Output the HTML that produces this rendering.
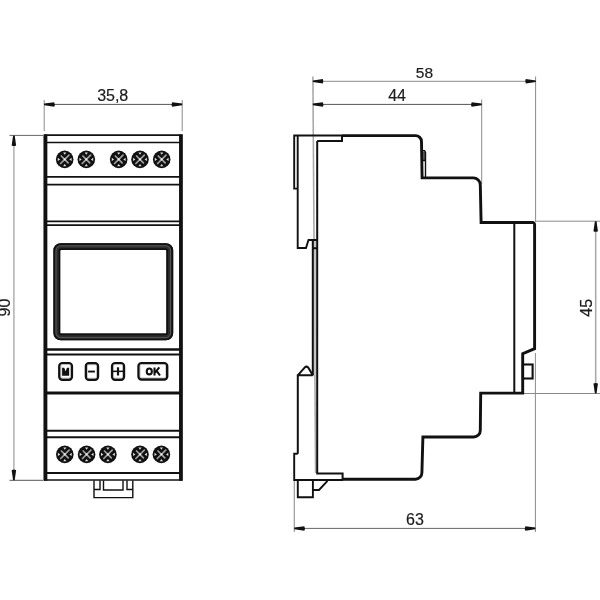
<!DOCTYPE html>
<html><head><meta charset="utf-8"><style>
html,body{margin:0;padding:0;background:#fff;width:600px;height:600px;overflow:hidden}
svg{display:block;filter:grayscale(1)}
text{font-family:"Liberation Sans",sans-serif;font-size:16px;fill:#1c1c1c;stroke:#1c1c1c;stroke-width:0.2}
</style></head><body>
<svg width="600" height="600" viewBox="0 0 600 600">
<defs>
<g id="scr">
<circle r="8.8" fill="#111"/>
<path d="M-3.4,-3.4L3.4,3.4M4.3,-4.3L-4.1,4.1" stroke="#a0a0a0" stroke-width="1.7" fill="none" stroke-linecap="round"/><circle r="1.1" fill="#eee"/>
<path d="M0,-4.6L-1.6,-6.9L1.6,-6.9ZM0,4.6L-1.6,6.9L1.6,6.9ZM-4.6,0L-6.9,-1.6L-6.9,1.6ZM4.6,0L6.9,-1.6L6.9,1.6Z" fill="#e0e0e0"/>
</g>
<path id="arr" d="M0,-0.8L10,-2.25Q11.2,0 10,2.25L0,0.8Z" fill="#111"/>
</defs>

<!-- ===== dimension lines (gray) ===== -->
<g stroke="#8a8a8a" stroke-width="1" fill="none">
<!-- 35,8 -->
<line x1="44.2" y1="100" x2="44.2" y2="131"/>
<line x1="182.2" y1="100" x2="182.2" y2="131"/>
<line x1="44.2" y1="104.4" x2="182.2" y2="104.4" stroke="#555"/>
<!-- 90 -->
<line x1="9.5" y1="135.4" x2="43" y2="135.4" stroke="#666"/>
<line x1="9.5" y1="480.3" x2="43" y2="480.3" stroke="#555"/>
<line x1="13.9" y1="135.4" x2="13.9" y2="480.2" stroke="#aaa" stroke-width="1.4"/>
<!-- 58 / 44 -->
<line x1="312.9" y1="76.5" x2="315.6" y2="473" stroke="#aaa" stroke-width="1.6"/>
<line x1="535.6" y1="76.5" x2="535.6" y2="222"/>
<line x1="481.7" y1="99.5" x2="481.7" y2="184"/>
<line x1="313.5" y1="81.3" x2="535.6" y2="81.3"/>
<line x1="313.5" y1="104.4" x2="481.7" y2="104.4" stroke="#555"/>
<!-- 45 -->
<line x1="536" y1="221.2" x2="600" y2="221.2"/>
<line x1="523" y1="393.5" x2="600" y2="393.5"/>
<line x1="595.7" y1="221.2" x2="595.7" y2="393.5" stroke="#aaa" stroke-width="1.6"/>
<!-- 63 -->
<line x1="294.3" y1="481" x2="294.3" y2="532" stroke="#999" stroke-width="1.2"/>
<line x1="535.4" y1="353" x2="535.4" y2="532"/>
<line x1="294.3" y1="528.4" x2="535.4" y2="528.4" stroke="#666"/>
</g>
<!-- arrows -->
<use href="#arr" transform="translate(44.2,104.4)"/>
<use href="#arr" transform="translate(182.2,104.4) rotate(180)"/>
<use href="#arr" transform="translate(13.9,135.4) rotate(90)"/>
<use href="#arr" transform="translate(13.9,480.2) rotate(-90)"/>
<use href="#arr" transform="translate(312.8,81.3)"/>
<use href="#arr" transform="translate(535.8,81.3) rotate(180)"/>
<use href="#arr" transform="translate(312.8,104.4)"/>
<use href="#arr" transform="translate(481.7,104.4) rotate(180)"/>
<use href="#arr" transform="translate(595.7,221.2) rotate(90)"/>
<use href="#arr" transform="translate(595.7,393.5) rotate(-90)"/>
<use href="#arr" transform="translate(294.3,528.4)"/>
<use href="#arr" transform="translate(535.4,528.4) rotate(180)"/>

<!-- labels -->
<text x="112.7" y="100.9" text-anchor="middle">35,8</text>
<text x="424.4" y="77.9" text-anchor="middle" style="font-size:15.5px">58</text>
<text x="397.1" y="100.6" text-anchor="middle">44</text>
<text x="415" y="525" text-anchor="middle">63</text>
<text transform="translate(10.1,307.5) rotate(-90)" text-anchor="middle">90</text>
<text transform="translate(592,307.8) rotate(-90)" text-anchor="middle">45</text>

<!-- ===== FRONT VIEW ===== -->
<g stroke="#111" fill="none">
<line x1="45.4" y1="134.5" x2="45.4" y2="480.7" stroke-width="3.9"/>
<line x1="180.95" y1="134.5" x2="180.95" y2="480.7" stroke-width="3.8"/>
<g stroke-width="1.7">
<line x1="44" y1="135.2" x2="182.4" y2="135.2"/>
<line x1="44" y1="142.5" x2="180" y2="142.5"/>
<line x1="44" y1="176.9" x2="180" y2="176.9" stroke-width="1.7"/>
<line x1="44" y1="184.7" x2="180" y2="184.7"/>
<line x1="44" y1="221.4" x2="182" y2="221.4" stroke-width="1.8"/>
<line x1="44" y1="225.1" x2="182" y2="225.1" stroke-width="1.8"/>
<line x1="44" y1="349.5" x2="182" y2="349.5" stroke-width="2.5"/>
<line x1="44" y1="354.5" x2="182" y2="354.5" stroke-width="2"/>
<line x1="44" y1="392.9" x2="182" y2="392.9" stroke-width="3"/>
<line x1="44" y1="430.7" x2="182" y2="430.7" stroke-width="1.9"/>
<line x1="44" y1="437.3" x2="182" y2="437.3" stroke-width="1.9"/>
<line x1="44" y1="473" x2="182" y2="473" stroke-width="1.9"/>
<line x1="44" y1="480" x2="182.4" y2="480"/>
</g>
<!-- display -->
<rect x="56.8" y="246.6" width="113" height="90.3" rx="3.8" stroke="#2c2c2c" stroke-width="6.8"/>
<rect x="54.3" y="244.1" width="118" height="95.3" rx="6.3" stroke="#111" stroke-width="1.8"/>
<rect x="59.4" y="249.2" width="107.8" height="85.1" rx="1.8" stroke="#111" stroke-width="1.7"/>
<rect x="56.0" y="245.8" width="114.6" height="91.9" rx="4.8" stroke="#777" stroke-width="0.6"/>
<!-- buttons -->
<g stroke-width="2.4">
<rect x="59.3" y="363.1" width="12.6" height="16.6" rx="3"/>
<rect x="85.9" y="363.2" width="12.1" height="16.6" rx="3"/>
<rect x="112.1" y="363.1" width="11.9" height="16.6" rx="3"/>
<rect x="138.5" y="363.1" width="28.7" height="16.4" rx="3"/>
</g>
<g stroke="#bbb" stroke-width="0.6">
<rect x="61.1" y="364.8" width="9" height="13.1"/>
<rect x="87.6" y="364.9" width="8.7" height="13.1"/>
<rect x="113.8" y="364.8" width="8.5" height="13.1"/>
<rect x="140.2" y="364.8" width="25.3" height="13"/>
</g>
<!-- DIN clip -->
<g stroke-width="1.4">
<path d="M94,480.5V497.6H132.8V480.5"/>
<path d="M94,489.5H100V480.5"/>
<path d="M103.5,480.5V490H123V480.5"/>
<path d="M127,480.5V489.5H132.8"/>
</g>
</g>
<!-- button glyphs -->
<path d="M62.1,375.7V367.8H64.3L65.6,371.4L66.9,367.8H69.1V375.7Z" fill="#111"/>
<rect x="88.1" y="370.6" width="6.8" height="1.9" fill="#111"/>
<rect x="116.9" y="367.3" width="2.2" height="8.2" fill="#111"/>
<rect x="112.5" y="370.6" width="11" height="1.5" fill="#111"/>
<g fill="none" stroke="#111" stroke-width="2.1"><ellipse cx="149.3" cy="371.45" rx="2.55" ry="2.9"/><path d="M154.5,367.4V375.5M155,372.6L159.3,367.4M156.6,370.9L160,375.5"/></g>

<!-- screws -->
<use href="#scr" x="64.7" y="159.4"/>
<use href="#scr" x="86.3" y="159.4"/>
<use href="#scr" x="118.7" y="159.4"/>
<use href="#scr" x="140" y="159.4"/>
<use href="#scr" x="161.7" y="159.4"/>
<use href="#scr" x="64.8" y="454.4"/>
<use href="#scr" x="86.6" y="454.4"/>
<use href="#scr" x="107.9" y="454.4"/>
<use href="#scr" x="140" y="454.4"/>
<use href="#scr" x="161.4" y="454.4"/>

<!-- ===== SIDE VIEW ===== -->
<rect x="313.6" y="240" width="2.7" height="135.5" fill="#c4c4c4"/>
<g stroke="#111" fill="none" stroke-linejoin="miter">
<!-- main outline thick -->
<path d="M342,135.6H415.5A6,6 0 0 1 421.5,141.6L422.1,177.9H473.3A7,7 0 0 1 480.3,184.9L481.1,222.5H532.5A2,2 0 0 1 534.6,224.5V348.7L522.7,353.7V393.1H480.7L480.3,430.5A6.5,6.5 0 0 1 473.8,437H422.9L421.9,472.7A6.5,6.5 0 0 1 415.4,479.2H342.5" stroke-width="2.9"/>
<!-- left thinner parts -->
<path d="M342,135.5H294.2V188.6H297.7" stroke-width="1.9"/>
<path d="M343,480H294.2V453.8H297.8" stroke-width="1.9"/>
<path d="M297.7,135.5V248H306L308.5,240H317.2" stroke-width="1.9"/>
<path d="M317.2,141V473.6H342.6V480M317.2,141H342V135.5" stroke-width="2"/>
<path d="M312.8,239.5V375.5M312.8,248.2H317.2" stroke-width="2"/>
<path d="M297.8,453.8V375.3H312.8M297.8,375.3L304.6,367.6Q306.3,365.8 308.2,367.4L312.8,375.3" stroke-width="2"/>
<!-- sliver -->
<rect x="423" y="152" width="2.2" height="8.3" fill="#555" stroke="none"/>
<path d="M422.8,150.8H424.6L425.5,152.4V177M423,160.5H425.5" stroke-width="1.4"/>
<!-- inner vertical -->
<line x1="514.3" y1="222.5" x2="514.3" y2="393.1" stroke-width="2"/>
<rect x="522.9" y="364.5" width="9.7" height="14" stroke-width="2.1"/>
<!-- bottom clip -->
<path d="M297.8,480.5V497.2H312.9V480.5M312.9,490H319L327.5,480.8" stroke-width="1.9"/>
</g>
</svg>
</body></html>
